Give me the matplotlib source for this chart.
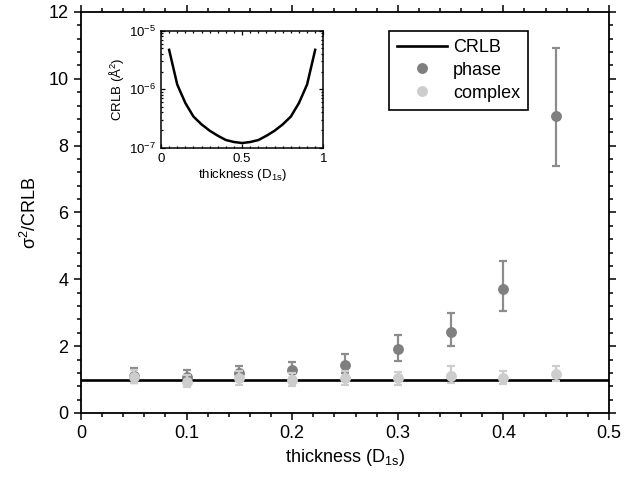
import numpy as np
import matplotlib
matplotlib.use("Agg")
import matplotlib.pyplot as plt
from matplotlib.ticker import MultipleLocator, LogLocator, NullFormatter
from matplotlib.lines import Line2D

plt.rcParams['font.family'] = ['Liberation Sans', 'DejaVu Sans']
plt.rcParams['mathtext.fontset'] = 'custom'
plt.rcParams['mathtext.rm'] = 'Liberation Sans'
plt.rcParams['mathtext.it'] = 'Liberation Sans'
plt.rcParams['mathtext.default'] = 'regular'

# main panel data
thickness = [0.05, 0.10, 0.15, 0.20, 0.25, 0.30, 0.35, 0.40, 0.45]
crlb_level = 1.0

phase_val = [1.10, 1.08, 1.19, 1.29, 1.44, 1.91, 2.41, 3.70, 8.90]
phase_hi = [1.34, 1.29, 1.41, 1.54, 1.77, 2.33, 3.00, 4.55, 10.93]
phase_lo = [0.90, 0.88, 0.97, 1.04, 1.19, 1.56, 2.00, 3.06, 7.39]

complex_val = [1.09, 0.94, 1.04, 1.00, 1.04, 1.04, 1.12, 1.04, 1.16]
complex_hi = [1.30, 1.15, 1.25, 1.20, 1.25, 1.24, 1.41, 1.26, 1.41]
complex_lo = [0.90, 0.78, 0.84, 0.82, 0.84, 0.84, 0.91, 0.86, 0.96]

# inset data
inset_x = [0.05, 0.10, 0.15, 0.20, 0.25, 0.30, 0.35, 0.40, 0.45, 0.50,
           0.55, 0.60, 0.65, 0.70, 0.75, 0.80, 0.85, 0.90, 0.95]
inset_crlb = [4.7e-6, 1.2e-6, 5.8e-7, 3.4e-7, 2.5e-7, 1.95e-7, 1.6e-7, 1.35e-7, 1.25e-7, 1.2e-7,
              1.25e-7, 1.35e-7, 1.6e-7, 1.95e-7, 2.5e-7, 3.4e-7, 5.8e-7, 1.2e-6, 4.7e-6]

PHASE_C = '#7f7f7f'
PHASE_ERR = '#8c8c8c'
COMPLEX_C = '#cdcdcd'

fig = plt.figure(figsize=(6.43, 4.79), dpi=100)
ax = fig.add_axes([0.126, 0.1378, 0.821, 0.8372])

ax.axhline(crlb_level, color='black', lw=1.9, zorder=1)

# phase and complex with asymmetric error bars
p = np.array(phase_val)
ax.errorbar(thickness, phase_val,
            yerr=[p - np.array(phase_lo), np.array(phase_hi) - p],
            fmt='o', color=PHASE_C, ecolor=PHASE_ERR, ms=6.8, elinewidth=1.6,
            capsize=3, capthick=1.6, zorder=2)
c = np.array(complex_val)
ax.errorbar(thickness, complex_val,
            yerr=[c - np.array(complex_lo), np.array(complex_hi) - c],
            fmt='o', color=COMPLEX_C, ecolor=COMPLEX_C, ms=6.8, elinewidth=1.6,
            capsize=3, capthick=1.6, zorder=3)

ax.set_xlim(0, 0.5)
ax.set_ylim(0, 12)
ax.xaxis.set_major_locator(MultipleLocator(0.1))
ax.xaxis.set_minor_locator(MultipleLocator(0.02))
ax.yaxis.set_major_locator(MultipleLocator(2))
ax.yaxis.set_minor_locator(MultipleLocator(0.4))
ax.xaxis.set_major_formatter(plt.FuncFormatter(lambda v, _: '0' if v == 0 else f'{v:g}'))
ax.tick_params(which='both', direction='out', top=True, right=True, labelsize=13, width=1.1)
ax.tick_params(which='major', length=5, pad=4)
ax.tick_params(which='minor', length=3)
for s in ax.spines.values():
    s.set_linewidth(1.3)

ax.set_xlabel('thickness (D$_{1s}$)', fontsize=13, labelpad=3)
ax.set_ylabel('σ$^2$/CRLB', fontsize=13, labelpad=6)

handles = [Line2D([], [], color='black', lw=1.9),
           Line2D([], [], ls='none', marker='o', color=PHASE_C, ms=6.8),
           Line2D([], [], ls='none', marker='o', color=COMPLEX_C, ms=6.8)]
leg = ax.legend(handles, ['CRLB', 'phase', 'complex'], loc='upper left',
                bbox_to_anchor=(0.583, 0.953), borderaxespad=0, fontsize=13,
                fancybox=False, edgecolor='black', framealpha=1,
                handlelength=2.8, handletextpad=0.3, labelspacing=0.32,
                borderpad=0.45)
leg.get_frame().set_linewidth(1.2)

# inset
ins = fig.add_axes([0.2504, 0.6917, 0.2524, 0.2443])
ins.plot(inset_x, inset_crlb, color='black', lw=1.8)
ins.set_yscale('log')
ins.set_xlim(0, 1)
ins.set_ylim(1e-7, 1e-5)
ins.xaxis.set_major_locator(MultipleLocator(0.5))
ins.xaxis.set_minor_locator(MultipleLocator(0.05))
ins.xaxis.set_major_formatter(plt.FuncFormatter(lambda v, _: f'{v:g}'))
ins.yaxis.set_major_locator(LogLocator(base=10, numticks=5))
ins.yaxis.set_minor_locator(LogLocator(base=10, subs=np.arange(2, 10), numticks=10))
ins.yaxis.set_minor_formatter(NullFormatter())
ins.tick_params(which='both', direction='in', top=True, right=True, labelsize=9.5, width=0.9)
ins.tick_params(which='major', length=3)
ins.tick_params(which='minor', length=1.5)
for s in ins.spines.values():
    s.set_linewidth(1.1)
ins.set_xlabel('thickness (D$_{1s}$)', fontsize=9.5, labelpad=2)
ins.set_ylabel('CRLB (Å$^2$)', fontsize=9.5, labelpad=2)

fig.savefig('out.png', dpi=100)
